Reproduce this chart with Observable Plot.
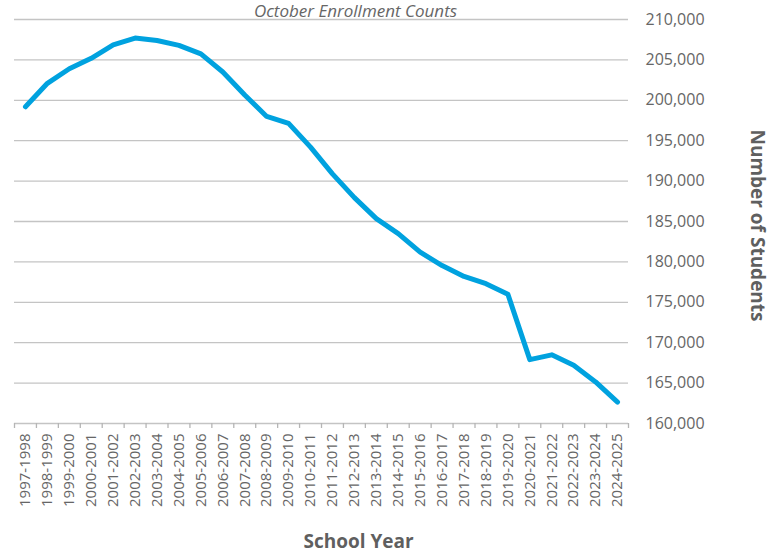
<!DOCTYPE html>
<html>
<head>
<meta charset="utf-8">
<script src="https://cdn.jsdelivr.net/npm/d3@7"></script>
<script src="https://cdn.jsdelivr.net/npm/@observablehq/plot@0.6"></script>
<style>
  html, body { margin: 0; padding: 0; background: #fff; overflow: hidden; }
</style>
</head>
<body>
<div id="chart"></div>
<script>
const years = ["1997-1998","1998-1999","1999-2000","2000-2001","2001-2002","2002-2003","2003-2004","2004-2005","2005-2006","2006-2007","2007-2008","2008-2009","2009-2010","2010-2011","2011-2012","2012-2013","2013-2014","2014-2015","2015-2016","2016-2017","2017-2018","2018-2019","2019-2020","2020-2021","2021-2022","2022-2023","2023-2024","2024-2025"];
const students = [199200,202100,203900,205200,206850,207700,207400,206800,205750,203500,200650,198000,197150,194200,190900,187950,185350,183500,181200,179550,178200,177300,176000,167900,168500,167200,165150,162650];
const yTicks = [160000,165000,170000,175000,180000,185000,190000,195000,200000,205000,210000];
const subtitle = "October Enrollment Counts";
const xTitle = "School Year";
const yTitle = "Number of Students";

const data = years.map((year, i) => ({i, year, value: students[i]}));
const idx = years.map((_, i) => i);
const bounds = [...idx.map(i => i - 0.5), years.length - 0.5];

const grey = "#5f5f5f";
const plot = Plot.plot({
  width: 779,
  height: 559,
  marginLeft: 14,
  marginRight: 151,
  marginTop: 19,
  marginBottom: 136,
  style: {fontFamily: "'Open Sans', sans-serif", fontSize: "15px", color: "#666", background: "#fff", overflow: "visible"},
  x: {type: "linear", domain: [-0.5, years.length - 0.5], axis: null},
  y: {domain: [160000, 210000], axis: null},
  marks: [
    Plot.ruleY(yTicks, {stroke: "#c4c4c4", strokeWidth: 1.3}),
    Plot.axisX({ticks: bounds, tickSize: 5, tickFormat: () => "", stroke: "#b5b5b5", strokeWidth: 1.3, label: null}),
    Plot.axisX({ticks: idx, tickSize: 0, tickPadding: 10, tickRotate: -90, tickFormat: i => years[i], fontSize: 15, label: null, style: {letterSpacing: "2px"}}),
    Plot.axisY({anchor: "right", ticks: yTicks, tickSize: 0, tickPadding: 17, tickFormat: d3.format(","), fontSize: 16, label: null, style: {letterSpacing: "1.8px"}}),
    Plot.line(data, {x: "i", y: "value", stroke: "#00a2df", strokeWidth: 5, strokeLinejoin: "round", strokeLinecap: "round"}),
    Plot.text([xTitle], {frameAnchor: "bottom", dx: 37, dy: 124, fontSize: 19, fontWeight: "bold", fill: grey, style: {letterSpacing: "0.6px"}}),
    Plot.text([yTitle], {frameAnchor: "right", textAnchor: "middle", dx: 129, dy: 4, rotate: 90, fontSize: 19, fontWeight: "bold", fill: grey, style: {letterSpacing: "0.8px"}}),
    Plot.text([subtitle], {frameAnchor: "top", lineAnchor: "top", dx: 34, dy: -15, fontSize: 17, fontStyle: "italic", fill: "#666", style: {letterSpacing: "1.5px"}})
  ]
});
document.getElementById("chart").appendChild(plot);
</script>
</body>
</html>
